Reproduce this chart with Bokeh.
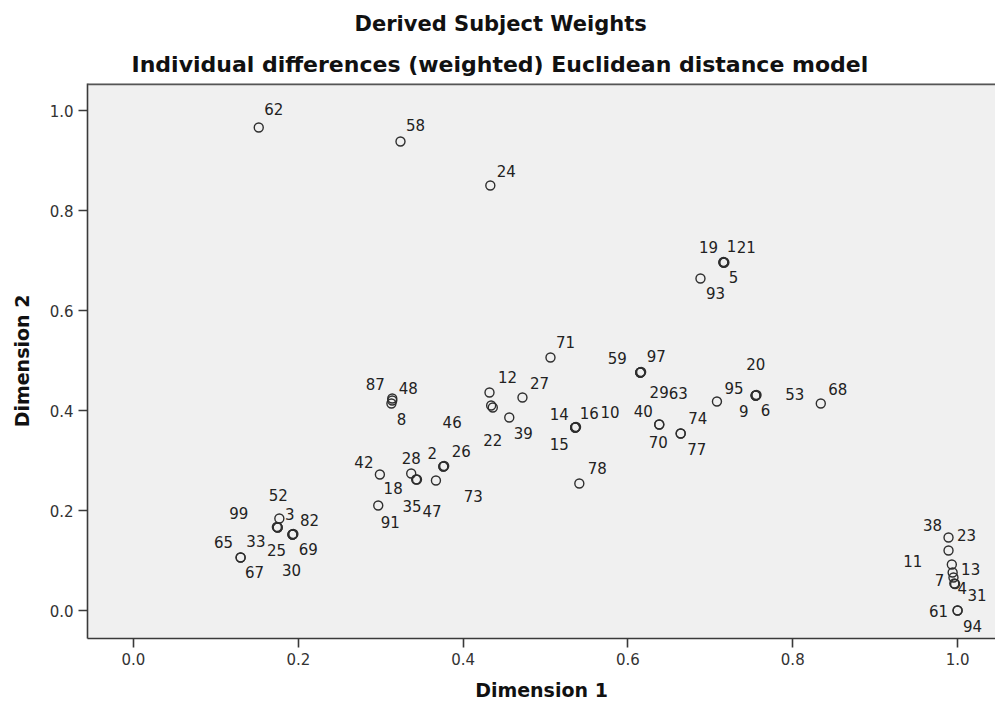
from bokeh.plotting import figure
from bokeh.models import (ColumnDataSource, Range1d, FixedTicker,
                          PrintfTickFormatter, Title, Span)
from bokeh.core.properties import value
from bokeh.embed import file_html
from bokeh.resources import INLINE

# ---------------- data ----------------
subjects = ["62", "58", "24",
            "19", "1", "21", "5", "93",
            "71", "12", "46", "22", "39", "27",
            "59", "97", "29", "63",
            "14", "16", "10", "15", "78",
            "40", "70", "74", "77", "95",
            "20", "9", "6", "53", "68",
            "87", "48", "8", "42", "28", "18", "35", "47",
            "2", "26", "73", "91",
            "52", "99", "3", "33", "82", "25", "69", "30", "65", "67",
            "38", "23", "11", "13", "7", "4", "31", "61", "94"]

dim1 = [0.152, 0.324, 0.433,
        0.716, 0.716, 0.717, 0.716, 0.688,
        0.506, 0.432, 0.434, 0.436, 0.456, 0.472,
        0.615, 0.615, 0.616, 0.615,
        0.536, 0.536, 0.537, 0.536, 0.541,
        0.638, 0.638, 0.664, 0.664, 0.708,
        0.755, 0.755, 0.756, 0.755, 0.834,
        0.314, 0.314, 0.313, 0.299, 0.337, 0.343, 0.344, 0.367,
        0.376, 0.376, 0.377, 0.297,
        0.177, 0.175, 0.175, 0.174, 0.193, 0.193, 0.194, 0.193, 0.130, 0.130,
        0.989, 0.989, 0.993, 0.994, 0.995, 0.996, 0.997, 1.000, 1.000]

dim2 = [0.966, 0.938, 0.850,
        0.696, 0.697, 0.696, 0.696, 0.664,
        0.506, 0.436, 0.410, 0.406, 0.386, 0.426,
        0.476, 0.476, 0.477, 0.476,
        0.366, 0.366, 0.367, 0.366, 0.254,
        0.372, 0.372, 0.354, 0.354, 0.418,
        0.430, 0.430, 0.431, 0.430, 0.414,
        0.424, 0.420, 0.414, 0.272, 0.274, 0.262, 0.262, 0.260,
        0.288, 0.288, 0.289, 0.210,
        0.184, 0.166, 0.166, 0.167, 0.152, 0.152, 0.153, 0.152, 0.106, 0.106,
        0.146, 0.120, 0.092, 0.076, 0.066, 0.054, 0.053, 0.000, 0.000]

tick_values = [0.0, 0.2, 0.4, 0.6, 0.8, 1.0]

title_main = "Derived Subject Weights"
title_sub = "Individual differences (weighted) Euclidean distance model"
x_title = "Dimension 1"
y_title = "Dimension 2"

# ---------------- label placement (pixel offsets from each point) ----------------
label_offsets = {
    "62": (15, -19), "58": (15, -17), "24": (16, -15),
    "19": (-15, -16), "1": (8, -16), "21": (22, -16), "5": (10, 14), "93": (15, 14),
    "71": (15, -16), "12": (18, -16), "46": (-39, 16), "22": (0, 32),
    "39": (14, 15), "27": (17, -15),
    "59": (-23, -15), "97": (16, -17), "29": (18, 20), "63": (38, 20),
    "14": (-16, -14), "16": (14, -15), "10": (34, -15), "15": (-16, 16),
    "78": (18, -16),
    "40": (-16, -14), "70": (-1, 17), "74": (17, -16), "77": (16, 15),
    "95": (17, -14),
    "20": (0, -32), "9": (-12, 15), "6": (9, 15), "53": (39, -2), "68": (17, -15),
    "87": (-17, -15), "48": (16, -13), "8": (10, 15),
    "42": (-16, -13), "28": (0, -16), "18": (-23, 8), "35": (-5, 26),
    "47": (-4, 30), "2": (-11, -14), "26": (18, -16), "73": (29, 30),
    "91": (12, 16),
    "52": (-1, -24), "99": (-39, -15), "3": (12, -14), "33": (-21, 14),
    "82": (17, -15), "25": (-16, 15), "69": (15, 15), "30": (-1, 35),
    "65": (-17, -16), "67": (14, 14),
    "38": (-16, -13), "23": (18, -16), "11": (-39, -4), "13": (18, -4),
    "7": (-14, 2), "4": (8, 4), "31": (22, 11), "61": (-19, 0), "94": (15, 15),
}

src = ColumnDataSource(dict(
    x=dim1, y=dim2, label=subjects,
    dx=[label_offsets[s][0] for s in subjects],
    dy=[label_offsets[s][1] for s in subjects],
))

p = figure(width=995, height=707,
           x_range=Range1d(-0.0558, 1.046), y_range=Range1d(-0.056, 1.054),
           output_backend="svg", toolbar_location=None,
           min_border_left=87, min_border_top=83, min_border_right=0,
           min_border_bottom=69)
p.title.visible = False
p.background_fill_color = "#f0f0f0"
p.border_fill_color = "white"
p.outline_line_color = None
p.grid.visible = False

for ax in (p.xaxis[0], p.yaxis[0]):
    ax.ticker = FixedTicker(ticks=tick_values)
    ax.formatter = PrintfTickFormatter(format="%.1f")
    ax.axis_line_color = "#3a3a3a"
    ax.axis_line_width = 1.6
    ax.major_tick_line_color = "#3a3a3a"
    ax.major_tick_line_width = 1.6
    ax.major_tick_out = 9
    ax.major_tick_in = 0
    ax.minor_tick_line_color = None
    ax.major_label_text_font = "DejaVu Sans"
    ax.major_label_text_font_size = "15px"
    ax.major_label_text_color = "#333333"
    ax.axis_label_text_font = "DejaVu Sans"
    ax.axis_label_text_font_style = "bold"
    ax.axis_label_text_font_size = "19px"
    ax.axis_label_text_color = "#111111"

p.xaxis.axis_label = x_title
p.yaxis.axis_label = y_title
p.xaxis.major_label_standoff = 5
p.xaxis.axis_label_standoff = 11
p.yaxis.major_label_standoff = 5
p.yaxis.axis_label_standoff = 14

# top border of the plot frame
p.add_layout(Span(location=1.053, dimension="width", line_color="#555555",
                  line_width=2.5))

p.scatter("x", "y", source=src, marker="circle", size=9,
          fill_color=None, line_color="#2e2e2e", line_width=1.4)

p.text("x", "y", text="label", source=src, x_offset="dx", y_offset="dy",
       text_font=value("DejaVu Sans"), text_font_size=value("15px"),
       text_color="#222222", text_align="center", text_baseline="middle")

t2 = Title(text=title_sub, align="left", offset=44, standoff=13,
           text_font="DejaVu Sans", text_font_style="bold",
           text_font_size="22px", text_color="#111111")
t1 = Title(text=title_main, align="left", offset=267, standoff=16,
           text_font="DejaVu Sans", text_font_style="bold",
           text_font_size="21px", text_color="#111111")
p.add_layout(t2, "above")
p.add_layout(t1, "above")

open("out.html", "w").write(file_html(p, INLINE))
